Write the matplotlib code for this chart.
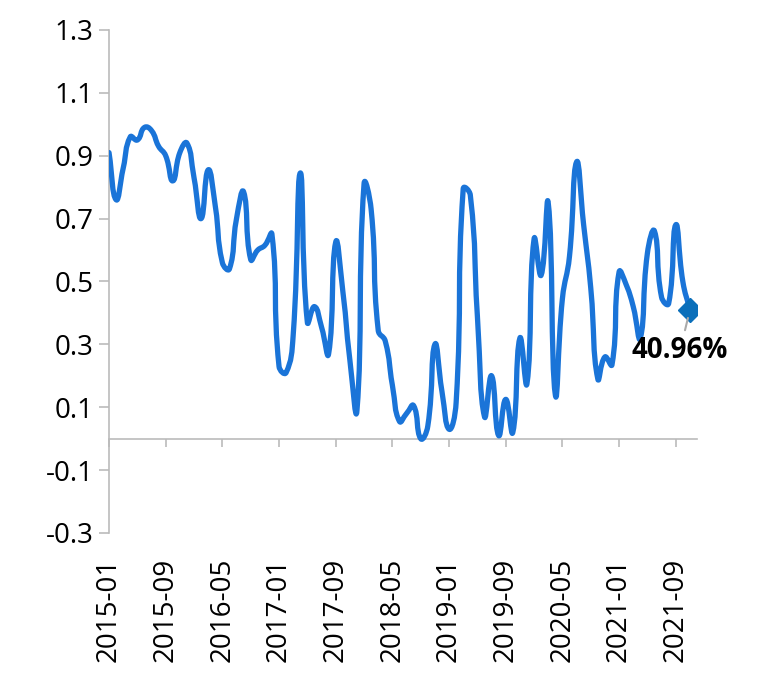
import numpy as np
import pandas as pd
import matplotlib
matplotlib.use('Agg')
import matplotlib.pyplot as plt
from matplotlib.path import Path
from matplotlib.patches import PathPatch

# monthly categories on the x axis (last one has no value yet)
months = pd.date_range('2015-01-01', periods=84, freq='MS').strftime('%Y-%m').tolist()

values = [0.91, 0.76, 0.86, 0.96, 0.95, 0.99, 0.98, 0.93, 0.90, 0.82,
          0.91, 0.94, 0.83, 0.70, 0.855, 0.74, 0.56, 0.54, 0.70, 0.785,
          0.57, 0.60, 0.615, 0.65, 0.23, 0.21, 0.33, 0.845, 0.37, 0.42,
          0.355, 0.27, 0.625, 0.47, 0.25, 0.09, 0.81, 0.73, 0.345, 0.31,
          0.17, 0.055, 0.08, 0.105, 0.0, 0.04, 0.30, 0.15, 0.03, 0.115,
          0.795, 0.775, 0.39, 0.07, 0.20, 0.01, 0.125, 0.02, 0.32, 0.175,
          0.635, 0.52, 0.75, 0.14, 0.445, 0.58, 0.88, 0.68, 0.48, 0.19,
          0.26, 0.235, 0.53, 0.49, 0.42, 0.32, 0.59, 0.66, 0.45, 0.43,
          0.68, 0.50, 0.4096]
last_label = '40.96%'

yticks = [-0.3, -0.1, 0.1, 0.3, 0.5, 0.7, 0.9, 1.1, 1.3]
xtick_idx = list(range(0, 84, 8))

line_color = '#1a74d8'
axis_color = '#bbbbbb'

plt.rcParams['font.family'] = ['Open Sans', 'DejaVu Sans']


def smooth_path(ax, xs, ys, smooth=0.5):
    # bezier smoothing like echarts' smooth line, done in display space
    pts = ax.transData.transform(np.column_stack([xs, ys]))
    n = len(pts)
    cps = []
    for i in range(n):
        prev = pts[max(i - 1, 0)]
        nxt = pts[min(i + 1, n - 1)]
        cur = pts[i]
        v = nxt - prev
        d0 = np.hypot(*(cur - prev))
        d1 = np.hypot(*(nxt - cur))
        r = d1 / (d0 + d1) if d0 + d1 > 0 else 0.5
        cps.append((cur - v * smooth * (1 - r), cur + v * smooth * r))
    verts = [pts[0]]
    codes = [Path.MOVETO]
    for i in range(n - 1):
        verts += [cps[i][1], cps[i + 1][0], pts[i + 1]]
        codes += [Path.CURVE4] * 3
    verts = ax.transData.inverted().transform(np.array(verts))
    return Path(verts, codes)


fig = plt.figure(figsize=(7.65, 6.75), dpi=100)
ax = fig.add_axes([0.1425, 0.2104, 0.7686, 0.7452])
ax.set_xlim(0, len(months) - 1)
ax.set_ylim(-0.3, 1.3)

x = np.arange(len(values))
ax.add_patch(PathPatch(smooth_path(ax, x, values), facecolor='none', edgecolor=line_color,
                       lw=3.8, capstyle='round', joinstyle='round', zorder=3))

# end point marker and label
ax.plot(x[-1], values[-1], marker='D', ms=12, color='#0b6fba', zorder=5)
ax.annotate(last_label, xy=(x[-1], values[-1]), xytext=(-7, -29), textcoords='offset points',
            ha='center', va='center', fontsize=20, fontweight='bold', color='black',
            arrowprops=dict(arrowstyle='-', color='#aaaaaa', lw=1.5, shrinkA=2, shrinkB=6),
            zorder=6)

# y axis
ax.set_yticks(yticks)
ax.set_yticklabels([f'{v:.1f}' for v in yticks])
ax.tick_params(axis='y', direction='out', length=7, width=1.2, color=axis_color,
               labelsize=20, labelcolor='black', pad=4)
for s in ['top', 'right', 'bottom']:
    ax.spines[s].set_visible(False)
ax.spines['left'].set_color(axis_color)
ax.spines['left'].set_linewidth(1.2)

# x labels at the bottom of the plot
ax.set_xticks(xtick_idx)
ax.set_xticklabels([months[i] for i in xtick_idx], rotation=90)
ax.tick_params(axis='x', length=0, labelsize=20, labelcolor='black', pad=18)

# axis line sits at y = 0
zero_pos = (0 - (-0.3)) / 1.6
sec = ax.secondary_xaxis(zero_pos)
sec.set_xticks(xtick_idx)
sec.tick_params(axis='x', direction='out', length=6, width=1.2, color=axis_color, labelbottom=False)
sec.spines['bottom'].set_color(axis_color)
sec.spines['bottom'].set_linewidth(1.2)

fig.savefig('out.png', dpi=100)
